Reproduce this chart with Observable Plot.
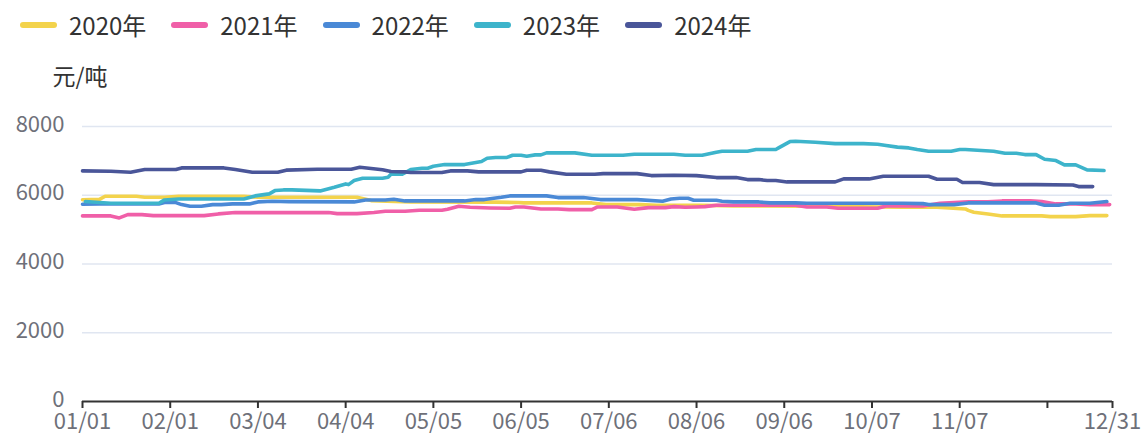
<!DOCTYPE html>
<html>
<head>
<meta charset="utf-8">
<script src="https://cdn.jsdelivr.net/npm/d3@7"></script>
<script src="https://cdn.jsdelivr.net/npm/@observablehq/plot@0.6"></script>
<style>
  html, body { margin: 0; padding: 0; background: #fff; }
  body { width: 1143px; height: 439px; overflow: hidden; font-family: "Noto Sans CJK SC", "Noto Sans", sans-serif; }
  #legend { height: 60px; box-sizing: border-box; padding: 12px 0 0 20px; display: flex; align-items: flex-start; }
  .item { display: flex; align-items: center; height: 26px; margin-right: 25px; font-size: 24px; color: #333; line-height: 26px; }
  .sw { width: 37px; height: 6px; border-radius: 3px; margin-right: 12px; }
</style>
</head>
<body>
<div id="legend"></div>
<div id="chart"></div>
<script>
// ---- data (day of year, 0 = 01/01) ----
const seriesNames = ["2020年", "2021年", "2022年", "2023年", "2024年"];
const seriesColors = ["#F3D34C", "#F05FA8", "#4A89D6", "#3DB4CB", "#4A5699"];

const days2020 = [0, 6, 8, 19, 22, 29, 34, 57, 62, 97, 102, 116, 146, 154, 156, 180, 185, 197, 203, 218, 230, 260, 290, 302, 312, 313, 315, 320, 325, 339, 342, 351, 356, 362];
const vals2020 = [5870, 5880, 5970, 5970, 5940, 5940, 5970, 5970, 5940, 5940, 5845, 5806, 5800, 5787, 5777, 5777, 5728, 5728, 5709, 5709, 5690, 5680, 5651, 5651, 5602, 5560, 5505, 5457, 5399, 5399, 5379, 5379, 5408, 5408];

const days2021 = [0, 10, 13, 16, 21, 25, 43, 48, 54, 87, 90, 97, 103, 107, 114, 119, 127, 129, 133, 137, 144, 151, 153, 156, 162, 168, 172, 180, 182, 189, 195, 200, 206, 209, 213, 217, 220, 224, 252, 256, 263, 267, 281, 284, 297, 303, 313, 320, 325, 335, 339, 344, 351, 356, 363];
const vals2021 = [5399, 5399, 5340, 5437, 5437, 5408, 5408, 5457, 5496, 5496, 5466, 5466, 5496, 5534, 5534, 5563, 5563, 5593, 5680, 5651, 5631, 5622, 5660, 5660, 5602, 5602, 5583, 5583, 5660, 5660, 5593, 5641, 5641, 5670, 5651, 5660, 5670, 5709, 5709, 5660, 5660, 5621, 5621, 5690, 5690, 5767, 5806, 5806, 5835, 5835, 5816, 5748, 5748, 5728, 5728];

const days2022 = [0, 6, 27, 29, 33, 35, 38, 42, 46, 49, 53, 59, 62, 67, 73, 96, 100, 107, 110, 114, 135, 139, 142, 146, 148, 151, 164, 168, 177, 183, 196, 205, 208, 211, 214, 216, 224, 226, 230, 239, 243, 252, 256, 290, 297, 299, 308, 313, 337, 340, 345, 349, 356, 362];
const vals2022 = [5740, 5748, 5748, 5787, 5787, 5728, 5680, 5680, 5728, 5728, 5748, 5748, 5806, 5825, 5815, 5806, 5864, 5864, 5884, 5835, 5835, 5874, 5874, 5922, 5942, 5981, 5981, 5932, 5932, 5874, 5874, 5825, 5893, 5913, 5913, 5855, 5855, 5825, 5806, 5806, 5777, 5777, 5767, 5767, 5757, 5728, 5728, 5777, 5777, 5709, 5709, 5767, 5767, 5816];

const days2023 = [1, 10, 27, 29, 34, 57, 61, 66, 68, 71, 74, 84, 89, 93, 94, 96, 99, 106, 108, 109, 113, 116, 120, 122, 124, 128, 135, 139, 141, 143, 146, 150, 152, 155, 157, 160, 162, 164, 174, 180, 191, 195, 209, 213, 219, 224, 226, 235, 238, 245, 246, 250, 252, 259, 266, 276, 281, 284, 288, 292, 295, 299, 307, 310, 312, 322, 326, 330, 333, 337, 340, 344, 347, 351, 355, 361];
const vals2023 = [5816, 5767, 5767, 5864, 5893, 5893, 5981, 6040, 6136, 6155, 6155, 6126, 6233, 6330, 6310, 6427, 6495, 6495, 6524, 6611, 6611, 6747, 6786, 6786, 6844, 6892, 6892, 6950, 6980, 7077, 7100, 7100, 7164, 7164, 7135, 7174, 7174, 7232, 7232, 7164, 7164, 7193, 7193, 7164, 7164, 7251, 7280, 7280, 7329, 7329, 7377, 7562, 7571, 7542, 7503, 7503, 7484, 7445, 7400, 7377, 7329, 7280, 7280, 7329, 7329, 7280, 7222, 7222, 7183, 7183, 7048, 7009, 6883, 6883, 6737, 6718];

const days2024 = [0, 10, 17, 22, 33, 35, 50, 54, 60, 69, 72, 83, 95, 98, 106, 109, 114, 116, 127, 130, 136, 140, 155, 157, 162, 165, 171, 181, 184, 196, 201, 209, 217, 224, 231, 235, 239, 242, 245, 249, 266, 269, 278, 283, 299, 302, 309, 311, 317, 322, 337, 350, 352, 357];
const vals2024 = [6708, 6700, 6670, 6747, 6750, 6795, 6795, 6750, 6670, 6670, 6730, 6757, 6757, 6815, 6740, 6690, 6680, 6660, 6660, 6708, 6708, 6680, 6680, 6728, 6728, 6680, 6611, 6611, 6630, 6630, 6572, 6582, 6570, 6514, 6514, 6456, 6456, 6427, 6427, 6388, 6388, 6475, 6475, 6553, 6553, 6466, 6466, 6369, 6369, 6310, 6310, 6300, 6252, 6252];

const yTicks = [0, 2000, 4000, 6000, 8000];
const tickDays = [0, 31, 62, 93, 124, 155, 186, 217, 248, 279, 310, 341, 364];
const tickLabels = ["01/01", "02/01", "03/04", "04/04", "05/05", "06/05", "07/06", "08/06", "09/06", "10/07", "11/07", "", "12/31"];
const yUnit = "元/吨";

// ---- build ----
const toDate = (d) => new Date(Date.UTC(2021, 0, 1 + d));
const allDays = [days2020, days2021, days2022, days2023, days2024];
const allVals = [vals2020, vals2021, vals2022, vals2023, vals2024];
const rows = [];
allDays.forEach((ds, s) => ds.forEach((d, i) => rows.push({series: seriesNames[s], date: toDate(d), value: allVals[s][i]})));
const tickDates = tickDays.map(toDate);
const labelMap = new Map(tickDates.map((d, i) => [+d, tickLabels[i]]));

// legend
const legend = document.getElementById("legend");
seriesNames.forEach((n, i) => {
  const it = document.createElement("div");
  it.className = "item";
  const sw = document.createElement("span");
  sw.className = "sw";
  sw.style.background = seriesColors[i];
  it.appendChild(sw);
  const t = document.createElement("span");
  t.textContent = n;
  it.appendChild(t);
  legend.appendChild(it);
});

const font = '"Noto Sans CJK SC", "Noto Sans", sans-serif';
const chart = Plot.plot({
  width: 1143,
  height: 379,
  marginLeft: 82,
  marginRight: 31,
  marginTop: 66,
  marginBottom: 38,
  style: {fontFamily: font, fontSize: "22px", background: "#fff", overflow: "visible"},
  x: {type: "utc", domain: [toDate(0), toDate(364)]},
  y: {domain: [0, 8000]},
  color: {domain: seriesNames, range: seriesColors},
  marks: [
    Plot.ruleY(yTicks.filter(d => d > 0), {stroke: "#E0E6F1", strokeWidth: 1.5}),
    Plot.axisY({ticks: yTicks, tickSize: 0, tickPadding: 18, fill: "#6E7079", fontSize: 22, label: null, tickFormat: d => String(d), dy: -2}),
    Plot.line(rows, {x: "date", y: "value", z: "series", stroke: "series", strokeWidth: 3.6, strokeLinejoin: "round", strokeLinecap: "round"}),
    Plot.ruleY([0], {stroke: "#333", strokeWidth: 2}),
    Plot.axisX({ticks: tickDates, tickSize: 7, tickPadding: 5, stroke: "#333", strokeWidth: 2, fill: "#6E7079", fontSize: 22, label: null, tickFormat: d => labelMap.get(+d)}),
    Plot.text([yUnit], {frameAnchor: "top-left", dx: -30, dy: -43, textAnchor: "start", fill: "#333", fontSize: 23, lineAnchor: "middle", dy: -49})
  ]
});
document.getElementById("chart").appendChild(chart);
</script>
</body>
</html>
